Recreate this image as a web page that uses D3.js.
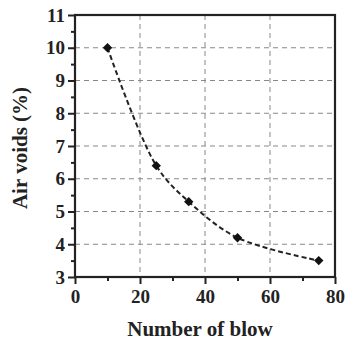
<!DOCTYPE html>
<html>
<head>
<meta charset="utf-8">
<script src="https://cdn.jsdelivr.net/npm/d3@7"></script>
<style>
  html, body { margin: 0; padding: 0; background: #fff; }
  svg { display: block; }
  text { font-family: "Liberation Serif", "Times New Roman", serif; font-weight: bold; fill: #222; }
</style>
</head>
<body>
<svg id="chart" width="346" height="340"></svg>
<script>
// Compaction data: air voids against number of blows
const blows = [10, 25, 35, 50, 75];
const airVoids = [10.0, 6.4, 5.3, 4.2, 3.5];

const xTicks = [0, 20, 40, 60, 80];
const yTicks = [3, 4, 5, 6, 7, 8, 9, 10, 11];
const xMinor = [10, 30, 50, 70];
const yMinor = [3.5, 4.5, 5.5, 6.5, 7.5, 8.5, 9.5, 10.5];

const xTitle = "Number of blow";
const yTitle = "Air voids (%)";

const svg = d3.select("#chart");
const m = { left: 75, right: 335, top: 15, bottom: 277 };

const x = d3.scaleLinear().domain([0, 80]).range([m.left, m.right]);
const y = d3.scaleLinear().domain([3, 11]).range([m.bottom, m.top]);

// Grid lines
const grid = svg.append("g").attr("stroke", "#888").attr("stroke-width", 1)
  .attr("stroke-dasharray", "5,4");
grid.selectAll("line.gx").data(xTicks.slice(1, -1)).join("line")
  .attr("class", "gx")
  .attr("x1", d => x(d)).attr("x2", d => x(d))
  .attr("y1", m.top).attr("y2", m.bottom);
grid.selectAll("line.gy").data(yTicks.slice(1, -1)).join("line")
  .attr("class", "gy")
  .attr("y1", d => y(d)).attr("y2", d => y(d))
  .attr("x1", m.left).attr("x2", m.right);

// Frame
svg.append("rect")
  .attr("x", m.left).attr("y", m.top)
  .attr("width", m.right - m.left).attr("height", m.bottom - m.top)
  .attr("fill", "none").attr("stroke", "#222").attr("stroke-width", 2.2);

// Axes with major and minor ticks
const xAxis = d3.axisBottom(x).tickValues(xTicks).tickSize(7).tickPadding(6).tickSizeOuter(0);
const yAxis = d3.axisLeft(y).tickValues(yTicks).tickSize(7).tickPadding(3).tickSizeOuter(0);

const gx = svg.append("g").attr("transform", `translate(0,${m.bottom})`).call(xAxis);
const gy = svg.append("g").attr("transform", `translate(${m.left},0)`).call(yAxis);
[gx, gy].forEach(g => {
  g.select(".domain").remove();
  g.selectAll(".tick line").attr("stroke", "#222").attr("stroke-width", 2);
  g.selectAll(".tick text").attr("font-size", 19).attr("fill", "#222")
    .attr("font-family", "Liberation Serif, Times New Roman, serif").attr("font-weight", "bold");
});

svg.append("g").attr("transform", `translate(0,${m.bottom})`)
  .call(d3.axisBottom(x).tickValues(xMinor).tickSize(4).tickFormat(""))
  .call(g => g.select(".domain").remove())
  .selectAll(".tick line").attr("stroke", "#222").attr("stroke-width", 2);
svg.append("g").attr("transform", `translate(${m.left},0)`)
  .call(d3.axisLeft(y).tickValues(yMinor).tickSize(4).tickFormat(""))
  .call(g => g.select(".domain").remove())
  .selectAll(".tick line").attr("stroke", "#222").attr("stroke-width", 2);

// Fitted dashed curve through the points
const pts = blows.map((b, i) => [b, airVoids[i]]);
svg.append("path")
  .datum(pts)
  .attr("fill", "none")
  .attr("stroke", "#222")
  .attr("stroke-width", 2)
  .attr("stroke-dasharray", "5,3")
  .attr("d", d3.line().x(d => x(d[0])).y(d => y(d[1])).curve(d3.curveCatmullRom.alpha(0.5)));

// Diamond markers
svg.selectAll("path.pt").data(pts).join("path")
  .attr("class", "pt")
  .attr("transform", d => `translate(${x(d[0])},${y(d[1])}) rotate(45)`)
  .attr("d", d3.symbol().type(d3.symbolSquare).size(44))
  .attr("fill", "#111");

// Axis titles
svg.append("text")
  .attr("x", (m.left + m.right) / 2 - 5).attr("y", 336)
  .attr("text-anchor", "middle").attr("font-size", 21)
  .text(xTitle);
svg.append("text")
  .attr("transform", `translate(27,${(m.top + m.bottom) / 2 + 2}) rotate(-90)`)
  .attr("text-anchor", "middle").attr("font-size", 21)
  .text(yTitle);
</script>
</body>
</html>
